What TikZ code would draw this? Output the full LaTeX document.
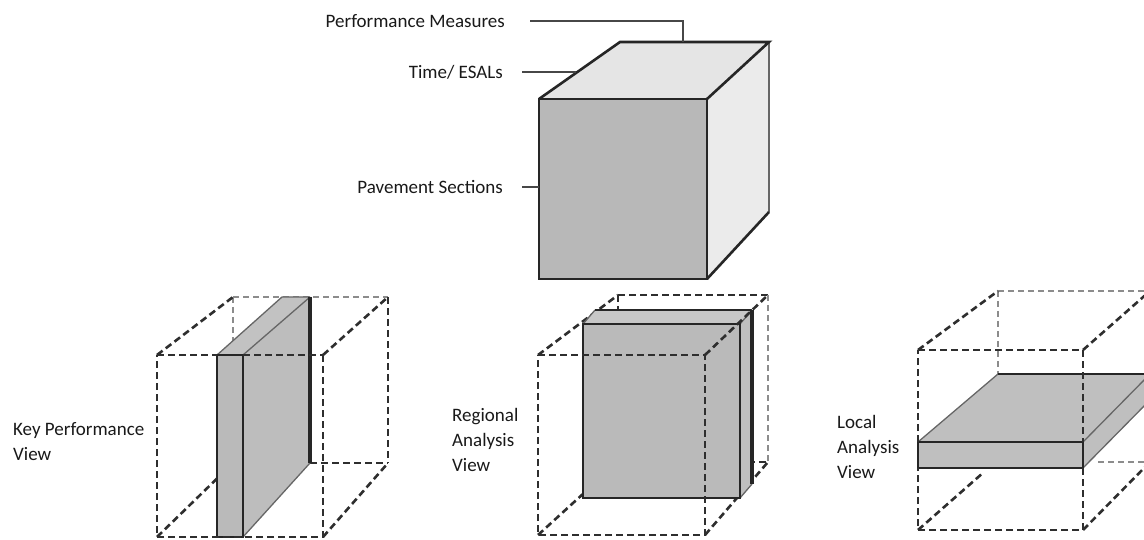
\documentclass[tikz,border=0pt]{standalone}
\usepackage{fontspec}
\setmainfont{Carlito}
\usetikzlibrary{calc}
\begin{document}
\begin{tikzpicture}[x=1pt,y=-1pt,
  lbl/.style={font=\fontsize{19}{25}\selectfont, inner sep=0pt, text=black!90},
  conn/.style={line width=2.8pt, draw=black!72},
  edge/.style={line width=2.6pt, draw=black!85, line join=miter},
  thinedge/.style={line width=1.3pt, draw=black!60},
  dashdark/.style={line width=2.6pt, draw=black!82, dash pattern=on 7pt off 4pt},
  dashlight/.style={line width=2pt, draw=black!45, dash pattern=on 6pt off 4pt},
]
\useasboundingbox (0,0) rectangle (1144,540);
\clip (0,0) rectangle (1144,540);

% ---------------- main cube ----------------
\coordinate (F1) at (539,99);
\coordinate (F2) at (707,99);
\coordinate (F3) at (707,279);
\coordinate (F4) at (539,279);
\coordinate (B1) at (620,42);
\coordinate (B2) at (769,42);
\coordinate (B3) at (769,212);
\fill[black!10] (F1) -- (B1) -- (B2) -- (F2) -- cycle;
\fill[black!8] (F2) -- (B2) -- (B3) -- (F3) -- cycle;
\fill[black!28] (F1) rectangle (F3);
\draw[thinedge] (B2) -- (B3);
\draw[edge] (F1) -- (B1) -- (B2) -- (F2);
\draw[edge] (B3) -- (F3);
\draw[edge] (F1) -- (F2) -- (F3) -- (F4) -- cycle;

% labels of the main cube
\node[lbl, anchor=east] (pm) at (505,21) {Performance Measures};
\coordinate (pmEnd) at (683,42);
\draw[conn] ([xshift=25pt]pm.east) -| (pmEnd);

\node[lbl, anchor=east] (te) at (503,72) {Time/ ESALs};
\coordinate (teEnd) at (576,72);
\draw[conn] ([xshift=19pt]te.east) -- (te.east -| teEnd);

\node[lbl, anchor=east] (ps) at (503,187) {Pavement Sections};
\draw[conn] ([xshift=19pt]ps.east) -- (ps.east -| F1);

% ---------------- left cube: Key Performance View ----------------
\coordinate (LF1) at (157,355);
\coordinate (LF2) at (323,355);
\coordinate (LF3) at (323,537);
\coordinate (LF4) at (157,537);
\coordinate (LB1) at (233,297);
\coordinate (LB2) at (388,297);
\coordinate (LB3) at (388,463);
\coordinate (LB4) at (233,463);
\draw[dashlight] (LB1) -- (LB4);
\draw[dashdark] (LB4) -- (LB3);
\draw[dashlight] (LB1) -- (LB2);
\draw[dashdark] (LB2) -- (LB3);
\draw[dashdark] (LF1) -- (LB1);
\draw[dashdark] (LF2) -- (LB2);
\draw[dashdark] (LF3) -- (LB3);
\draw[dashdark] (LF4) -- (LB4);
% slab
\coordinate (LS1) at (217,355);
\coordinate (LS2) at (243,355);
\coordinate (LS3) at (243,537);
\coordinate (LS4) at (217,537);
\coordinate (LS5) at (282,297);
\coordinate (LS6) at (310,297);
\coordinate (LS7) at (310,463);
\fill[black!24] (LS1) -- (LS5) -- (LS6) -- (LS2) -- cycle;
\fill[black!26] (LS2) -- (LS6) -- (LS7) -- (LS3) -- cycle;
\fill[black!27] (LS1) rectangle (LS3);
\draw[thinedge] (LS1) -- (LS5) -- (LS6);
\draw[thinedge] (LS2) -- (LS6);
\draw[thinedge] (LS3) -- (LS7);
\draw[line width=3.2pt, draw=black!85] (LS6) -- (LS7);
\draw[edge] (LS1) rectangle (LS3);
\draw[dashdark] (LF1) -- (LS1);
\draw[dashdark] (LS2) -- (LF2);
\draw[dashdark] (LF2) -- (LF3) -- (LF4) -- (LF1);

\node[lbl, anchor=west, align=left] (kp) at (13,442) {Key Performance\\View};

% ---------------- middle cube: Regional Analysis View ----------------
\coordinate (MF1) at (538,355);
\coordinate (MF2) at (705,355);
\coordinate (MF3) at (705,535);
\coordinate (MF4) at (538,535);
\coordinate (MB1) at (618,295);
\coordinate (MB2) at (768,295);
\coordinate (MB3) at (768,462);
\coordinate (MB4) at (618,462);
\draw[dashdark] (MB1) -- (MB2);
\draw[dashlight] (MB2) -- (MB3);
\draw[dashdark] (MB1) -- (MB4) -- (MB3);
\draw[dashdark] (MF1) -- (MB1);
\draw[dashdark] (MF4) -- (MB4);
\draw[dashdark] (MF3) -- (MB3);
% slab
\coordinate (MS1) at (583,324);
\coordinate (MS2) at (740,324);
\coordinate (MS3) at (740,498);
\coordinate (MS4) at (583,498);
\coordinate (MS5) at (595,310);
\coordinate (MS6) at (752,310);
\coordinate (MS7) at (752,484);
\fill[black!22] (MS1) -- (MS5) -- (MS6) -- (MS2) -- cycle;
\fill[black!25] (MS2) -- (MS6) -- (MS7) -- (MS3) -- cycle;
\fill[black!27] (MS1) rectangle (MS3);
\draw[thinedge] (MS1) -- (MS5);
\draw[edge] (MS5) -- (MS6);
\draw[thinedge] (MS2) -- (MS6);
\draw[thinedge] (MS3) -- (MS7);
\draw[line width=3.2pt, draw=black!85] (MS6) -- (MS7);
\draw[edge] (MS1) rectangle (MS3);
\draw[dashdark] (MF2) -- (MB2);
\draw[dashdark] (MF1) -- (MF2) -- (MF3) -- (MF4) -- cycle;

\node[lbl, anchor=west, align=left] (ra) at (452,440) {Regional\\Analysis\\View};

% ---------------- right cube: Local Analysis View ----------------
\coordinate (RF1) at (918,350);
\coordinate (RF2) at (1083,350);
\coordinate (RF3) at (1083,530);
\coordinate (RF4) at (918,530);
\coordinate (RB1) at (998,291);
\coordinate (RB2) at (1150,291);
\coordinate (RB3) at (1150,462);
\coordinate (RBl) at (998,374);
\coordinate (RBm) at (1098,462);
\coordinate (RBd) at (984,472);
\draw[dashlight] (RB1) -- (RB2);
\draw[dashlight] (RB1) -- (RBl);
\draw[dashlight] (RBm) -- (RB3);
\draw[dashdark] (RF1) -- (RB1);
\draw[dashdark] (RF2) -- (RB2);
\draw[dashdark] (RF3) -- (RB3);
\draw[dashdark] (RF4) -- (RBd);
% slab
\coordinate (RS1) at (918,442);
\coordinate (RS2) at (1083,442);
\coordinate (RS3) at (1083,468);
\coordinate (RS4) at (918,468);
\coordinate (RS5) at (998,374);
\coordinate (RS6) at (1150,374);
\coordinate (RS7) at (1150,400);
\fill[black!25] (RS1) -- (RS5) -- (RS6) -- (RS2) -- cycle;
\fill[black!25] (RS2) -- (RS6) -- (RS7) -- (RS3) -- cycle;
\fill[black!25] (RS1) rectangle (RS3);
\draw[thinedge] (RS1) -- (RS5);
\draw[edge] (RS5) -- (RS6);
\draw[thinedge] (RS2) -- (RS6);
\draw[thinedge] (RS3) -- (RS7);
\draw[edge] (RS1) rectangle (RS3);
\draw[dashdark] (RF1) -- (RF2);
\draw[dashdark] (RF2) -- (RS2);
\draw[dashdark] (RS3) -- (RF3) -- (RF4) -- (RS4);
\draw[dashdark] (RS1) -- (RF1);

\node[lbl, anchor=west, align=left] (la) at (837,447) {Local\\Analysis\\View};
\end{tikzpicture}
\end{document}
